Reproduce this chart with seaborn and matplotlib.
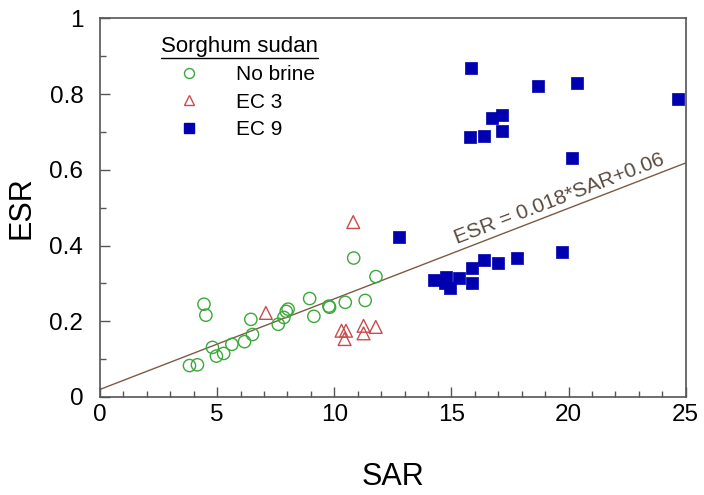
import matplotlib
matplotlib.use("Agg")
import matplotlib.pyplot as plt
from matplotlib.ticker import MultipleLocator
from matplotlib.lines import Line2D
import seaborn as sns
import pandas as pd

# ---- data ----
nobrine_x = [3.82, 4.16, 4.44, 4.52, 4.80, 4.97, 5.28, 5.63, 6.17, 6.44, 6.51, 7.61,
             7.85, 7.95, 8.03, 8.95, 9.13, 9.77, 9.80, 10.47, 10.83, 11.32, 11.78]
nobrine_y = [0.083, 0.085, 0.245, 0.216, 0.131, 0.108, 0.115, 0.139, 0.146, 0.205, 0.165, 0.192,
             0.210, 0.226, 0.232, 0.260, 0.213, 0.240, 0.237, 0.250, 0.367, 0.255, 0.318]

ec3_x = [7.08, 10.31, 10.50, 10.44, 10.81, 11.25, 11.25, 11.77]
ec3_y = [0.222, 0.175, 0.175, 0.153, 0.462, 0.188, 0.168, 0.185]

ec9_x = [15.83, 18.68, 20.35, 24.69, 16.72, 17.17, 17.14, 15.78, 16.40, 20.16, 12.76,
         19.71, 17.82, 17.00, 16.41, 15.88, 15.90, 14.25, 14.76, 14.96, 15.33, 14.74]
ec9_y = [0.870, 0.821, 0.828, 0.786, 0.736, 0.745, 0.702, 0.687, 0.689, 0.632, 0.422,
         0.383, 0.368, 0.354, 0.363, 0.340, 0.300, 0.309, 0.317, 0.287, 0.313, 0.300]

fit_x = [0, 25]
fit_y = [0.020, 0.618]

yticks = [0, 0.2, 0.4, 0.6, 0.8, 1.0]
ytick_labels = ["0", "0.2", "0.4", "0.6", "0.8", "1"]
group_names = ["No brine", "EC 3", "EC 9"]
legend_title = "Sorghum sudan"
fit_label = "ESR = 0.018*SAR+0.06"

# ---- style ----
sns.set_theme(style="white")
plt.rcParams["font.family"] = ["Liberation Sans", "DejaVu Sans"]
plt.rcParams["text.color"] = "black"

fig = plt.figure(figsize=(7.04, 4.95), dpi=100)
ax = fig.add_axes([0.142, 0.198, 0.832, 0.765])

green = "#3aa83a"
red = "#c84c4c"
blue = "#0000b0"

df1 = pd.DataFrame({"SAR": nobrine_x, "ESR": nobrine_y})
df2 = pd.DataFrame({"SAR": ec3_x, "ESR": ec3_y})
df3 = pd.DataFrame({"SAR": ec9_x, "ESR": ec9_y})

ax.plot(fit_x, fit_y, color="#7b5a48", lw=1.0, zorder=1)

sns.scatterplot(data=df1, x="SAR", y="ESR", ax=ax, marker="o", s=78,
                facecolor="none", edgecolor=green, linewidth=1.0, zorder=3)
sns.scatterplot(data=df2, x="SAR", y="ESR", ax=ax, marker="^", s=85,
                facecolor="none", edgecolor=red, linewidth=1.0, zorder=3)
sns.scatterplot(data=df3, x="SAR", y="ESR", ax=ax, marker="s", s=80,
                color=blue, edgecolor=blue, linewidth=0.5, zorder=4)

ax.set_xlim(0, 25)
ax.set_ylim(0, 1)
ax.xaxis.set_major_locator(MultipleLocator(5))
ax.xaxis.set_minor_locator(MultipleLocator(1))
ax.set_yticks(yticks)
ax.set_yticklabels(ytick_labels)
ax.yaxis.set_minor_locator(MultipleLocator(0.1))
ax.tick_params(which="major", direction="in", length=7, width=1.0, labelsize=17.5,
               color="#555555", labelcolor="black", bottom=True, left=True)
ax.tick_params(axis="y", which="major", pad=12)
ax.tick_params(axis="x", which="major", pad=5)
ax.tick_params(which="minor", direction="in", length=4, width=1.0, color="#555555",
               bottom=True, left=True)
for sp in ax.spines.values():
    sp.set_color("#555555")
    sp.set_linewidth(1.2)

ax.set_xlabel("SAR", fontsize=22, labelpad=26, color="black")
ax.set_ylabel("ESR", fontsize=22, labelpad=9, color="black")

ax.text(19.6, 0.522, fit_label, rotation=21, fontsize=15, color="#5a4a40",
        ha="center", va="center", rotation_mode="anchor")

handles = [
    Line2D([], [], marker="o", ls="none", markersize=7.2, markerfacecolor="none",
           markeredgecolor=green, markeredgewidth=1.0),
    Line2D([], [], marker="^", ls="none", markersize=7.5, markerfacecolor="none",
           markeredgecolor=red, markeredgewidth=1.0),
    Line2D([], [], marker="s", ls="none", markersize=7, markerfacecolor=blue,
           markeredgecolor=blue),
]
leg = ax.legend(handles, group_names, title=legend_title, loc="upper left",
                bbox_to_anchor=(0.09, 0.975), frameon=False, fontsize=15,
                title_fontsize=16, handlelength=2.7, handletextpad=0.9,
                labelspacing=0.4, borderaxespad=0.0, labelcolor="black")
leg._legend_box.align = "left"
leg.get_title().set_color("black")

fig.canvas.draw()
tb = leg.get_title().get_window_extent()
inv = fig.transFigure.inverted()
(x0, y0), (x1, y1) = inv.transform([(tb.x0, tb.y0), (tb.x1, tb.y1)])
fig.add_artist(Line2D([x0, x1], [y0 - 0.002, y0 - 0.002], color="black", lw=1.0,
                      transform=fig.transFigure))

fig.savefig("out.png", dpi=100)
